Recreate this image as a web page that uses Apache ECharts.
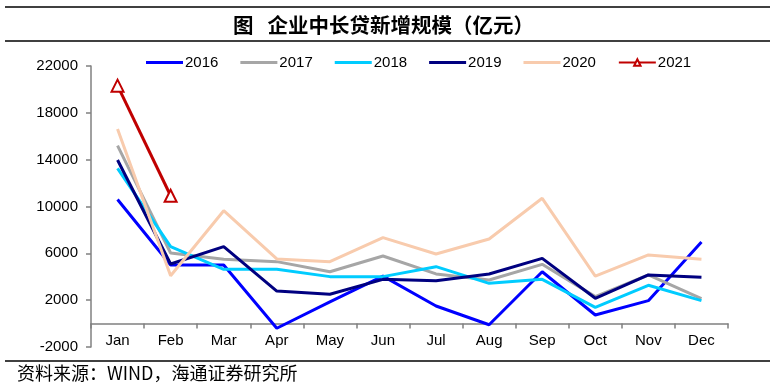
<!DOCTYPE html>
<html>
<head>
<meta charset="utf-8">
<script src="https://cdn.jsdelivr.net/npm/echarts@6/dist/echarts.min.js"></script>
<style>html,body{margin:0;padding:0;background:#fff;}#c{width:774px;height:388px;}</style>
</head>
<body>
<div id="c"></div>
<script>
var months = ['Jan','Feb','Mar','Apr','May','Jun','Jul','Aug','Sep','Oct','Nov','Dec'];
var yTicks = [-2000, 2000, 6000, 10000, 14000, 18000, 22000];
var s2016 = [10600, 5000, 5000, -400, 1850, 4050, 1500, -100, 4430, 730, 1960, 6970];
var s2017 = [15200, 6030, 5500, 5290, 4430, 5770, 4240, 3720, 5060, 2300, 4150, 2130];
var s2018 = [13260, 6570, 4640, 4640, 4010, 4010, 4860, 3440, 3780, 1390, 3270, 1960];
var s2019 = [13970, 5090, 6570, 2780, 2500, 3780, 3660, 4240, 5570, 2160, 4150, 3950];
var s2020 = [16620, 4090, 9640, 5520, 5290, 7340, 5940, 7220, 10700, 4060, 5860, 5490];
var s2021 = [20320, 10920];

var font = 'Liberation Sans, Arial, sans-serif';
var lineIcon = 'path://M0,0 L37,0 L37,3 L0,3 Z';
function line(name, data, color) {
  return {name: name, type: 'line', data: data, symbol: 'none', smooth: false,
    lineStyle: {color: color, width: 3}, itemStyle: {color: color}};
}
var chart = echarts.init(document.getElementById('c'), null, {renderer: 'canvas'});
chart.setOption({
  animation: false,
  backgroundColor: '#fff',
  grid: {left: 91, right: 46, top: 66, bottom: 41, containLabel: false},
  legend: {
    top: 50, left: 141, itemWidth: 37, itemHeight: 8, itemGap: 22,
    textStyle: {fontFamily: font, fontSize: 15, color: '#000', padding: [0, 0, 0, -3]},
    data: [
      {name: '2016', icon: lineIcon},
      {name: '2017', icon: lineIcon},
      {name: '2018', icon: lineIcon},
      {name: '2019', icon: lineIcon},
      {name: '2020', icon: lineIcon},
      {name: '2021'}
    ]
  },
  xAxis: {
    type: 'category', data: months, boundaryGap: true, offset: -23.42,
    axisLine: {onZero: false, lineStyle: {color: '#808080', width: 1.5}},
    axisTick: {show: true, length: 5, inside: false, lineStyle: {color: '#808080', width: 1.5}},
    axisLabel: {fontFamily: font, fontSize: 15, color: '#000', margin: 10},
    splitLine: {show: false}
  },
  yAxis: {
    type: 'value', min: -2000, max: 22000,
    axisLine: {show: true, lineStyle: {color: '#808080', width: 1.5}},
    axisTick: {show: true, length: 5, customValues: yTicks, lineStyle: {color: '#808080', width: 1.5}},
    axisLabel: {fontFamily: font, fontSize: 15, color: '#000', margin: 13, customValues: yTicks,
      formatter: function (v) { return String(v); }},
    splitLine: {show: false}
  },
  series: [
    line('2016', s2016, '#0000FF'),
    line('2017', s2017, '#A6A6A6'),
    line('2018', s2018, '#00CCFF'),
    line('2019', s2019, '#000080'),
    line('2020', s2020, '#F8CBAD'),
    {name: '2021', type: 'line', data: s2021, symbol: 'triangle', symbolSize: 12, showSymbol: true,
      lineStyle: {color: '#C00000', width: 3},
      itemStyle: {color: '#fff', borderColor: '#C00000', borderWidth: 2}}
  ],
  graphic: [
    {type: 'line', shape: {x1: 5, y1: 7, x2: 770, y2: 7}, style: {stroke: '#000', lineWidth: 1.5}},
    {type: 'line', shape: {x1: 5, y1: 41, x2: 770, y2: 41}, style: {stroke: '#000', lineWidth: 1.5}},
    {type: 'text', x: 233, y: 25, style: {text: '图   企业中长贷新增规模（亿元）', font: 'bold 20.5px "Noto Sans CJK SC", sans-serif', fill: '#000', verticalAlign: 'middle'}},
    {type: 'line', shape: {x1: 5, y1: 361, x2: 770, y2: 361}, style: {stroke: '#000', lineWidth: 1.5}},
    {type: 'text', x: 17, y: 373, style: {text: '资料来源：WIND，海通证券研究所', font: '18px "Noto Sans CJK SC", sans-serif', fill: '#000', verticalAlign: 'middle'}}
  ]
});
</script>
</body>
</html>
